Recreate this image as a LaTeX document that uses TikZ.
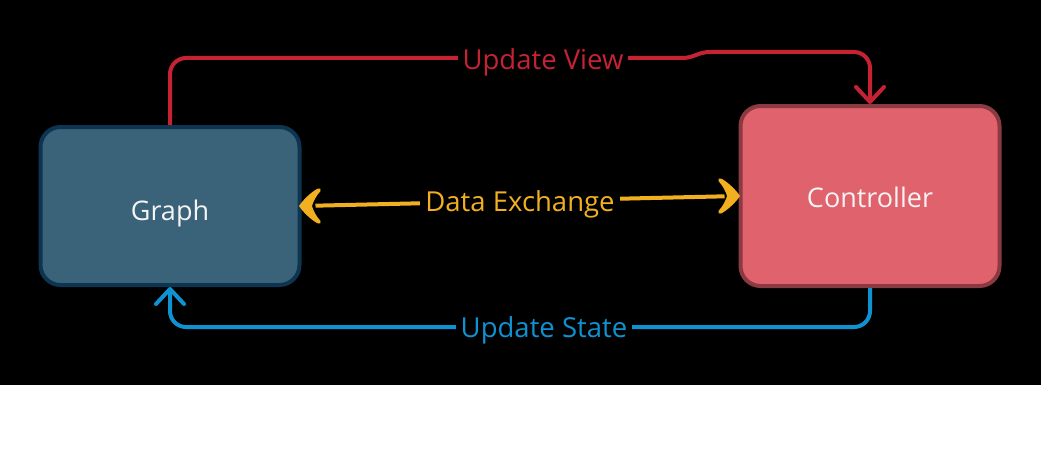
\documentclass[tikz,border=0pt]{standalone}
\usepackage{fontspec}
\setmainfont{Open Sans}
\usetikzlibrary{arrows.meta}
\definecolor{graphfill}{HTML}{3A6279}
\definecolor{graphborder}{HTML}{0D3552}
\definecolor{ctrlfill}{HTML}{E0626C}
\definecolor{ctrlborder}{HTML}{8B3A42}
\definecolor{viewred}{HTML}{C52233}
\definecolor{datayellow}{HTML}{F2B021}
\definecolor{stateblue}{HTML}{0E92D1}
\definecolor{boxtext}{HTML}{F4F4F4}
\tikzset{
  box/.style={rectangle, rounded corners=20pt, line width=4pt, minimum width=259pt,
    text=boxtext, font=\fontsize{27}{31}\selectfont, text depth=0pt},
  conn/.style={line width=4pt, rounded corners=16pt},
  lbl/.style={fill=black, inner xsep=5pt, inner ysep=2pt, font=\fontsize{27.5}{31}\selectfont},
  barb/.style={-{Straight Barb[length=15pt,width=28pt,line cap=round,line join=round]}},
  headpath/.pic={
    \fill[datayellow] (0,0) .. controls (4,-6) and (12,-14) .. (19,-17.5)
      .. controls (21,-18.5) and (22.5,-17) .. (21.5,-15)
      .. controls (17,-10) and (14,-4) .. (13,0)
      .. controls (14,4) and (17,10) .. (21.5,15)
      .. controls (22.5,17) and (21,18.5) .. (19,17.5)
      .. controls (12,14) and (4,6) .. (0,0) -- cycle;
  }
}
\begin{document}
\begin{tikzpicture}[x=1pt,y=-1pt]
\useasboundingbox (0,0) rectangle (1041,460);
\fill[white] (0,385) rectangle (1041,460);
\fill[black] (0,0) rectangle (1041,385);

\node[box, draw=graphborder, fill=graphfill, minimum height=158pt, text height=29pt] (graph) at (170,206) {Graph};
\node[box, draw=ctrlborder, fill=ctrlfill, minimum height=180pt, text height=22pt] (ctrl) at (870,196) {Controller};

% Update View
\coordinate (v1) at (170,74);
\coordinate (v2) at (186,58);
\coordinate (v3) at (681,58);
\coordinate (v4) at (711,52);
\coordinate (v5) at (854,52);
\coordinate (v6) at (870,68);
\draw[line width=4pt, viewred, barb] (graph.north) -- (v1)
  .. controls (170,65.2) and (177.2,58) .. (v2) -- (v3)
  .. controls (696,58) and (696,52) .. (v4) -- (v5)
  .. controls (862.8,52) and (870,59.2) .. (v6) -- (ctrl.north);
\node[lbl, text=viewred] (lview) at (543,62) {Update View};

% Data Exchange
\draw[line width=4pt, datayellow, shorten <=14pt, shorten >=14pt] (graph.east) -- (ctrl.west);
\pic[shift={(graph.east)}, xshift=-2.5pt] {headpath};
\pic[shift={(ctrl.west)}, xshift=1.5pt, xscale=-1] {headpath};
\node[lbl, text=datayellow] (ldata) at (520,204) {Data Exchange};

% Update State
\coordinate (s1) at (870,327);
\coordinate (s2) at (170,327);
\draw[conn, stateblue, barb] (ctrl.south) -- (s1) -- (s2) -- (graph.south);
\node[lbl, text=stateblue] (lstate) at (544,330) {Update State};
\end{tikzpicture}
\end{document}
